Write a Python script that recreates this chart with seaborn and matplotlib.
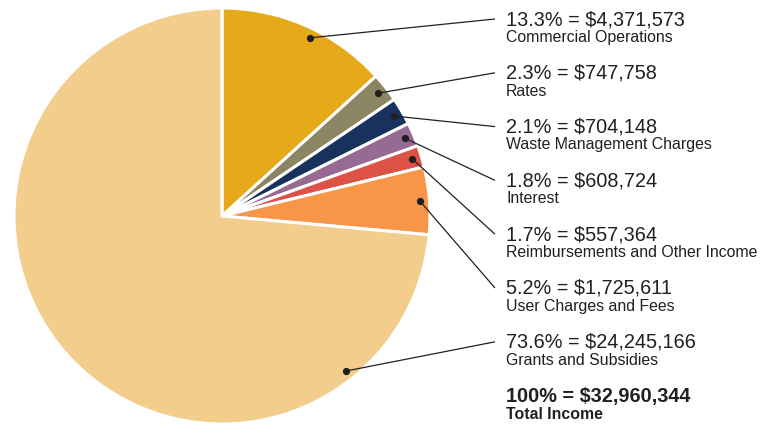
import numpy as np
import matplotlib
matplotlib.use("Agg")
import matplotlib.pyplot as plt
import seaborn as sns

# ---- data ----
categories = ["Commercial Operations", "Rates", "Waste Management Charges", "Interest",
              "Reimbursements and Other Income", "User Charges and Fees", "Grants and Subsidies"]
values = [4371573, 747758, 704148, 608724, 557364, 1725611, 24245166]
percent_labels = ["13.3%", "2.3%", "2.1%", "1.8%", "1.7%", "5.2%", "73.6%"]
total_label = "100%"
total_name = "Total Income"
colors = ["#E5A919", "#8B8563", "#18325E", "#976A94", "#DC5247", "#F79548", "#F2CD8B"]

sns.set_theme(style="white")
plt.rcParams["font.family"] = ["Liberation Sans", "DejaVu Sans"]

W, H = 762, 427
fig = plt.figure(figsize=(W / 100, H / 100), dpi=100)
ax = fig.add_axes([0, 0, 1, 1])

cx, cy, R = 222, H - 217, 208
wedges, _ = ax.pie(values, colors=colors, startangle=90, counterclock=False,
                   center=(cx, cy), radius=R,
                   wedgeprops=dict(edgecolor="white", linewidth=2.2))
ax.set_xlim(0, W)
ax.set_ylim(0, H)
ax.set_aspect("auto")
ax.axis("off")

# anchor position inside each wedge: fraction along the wedge's angular span (from theta1)
anchor_frac = [0.45, 0.5, 0.5, 0.5, 0.5, 0.5, 0.826]
anchor_r = 0.955

text_color = "#231F20"
label_x = 506
line_end_x = 495
first_baseline = 25
step = 53.8

for i, (w, name) in enumerate(zip(wedges, categories)):
    t1, t2 = w.theta1, w.theta2
    ang = np.deg2rad(t1 + anchor_frac[i] * (t2 - t1))
    px = cx + anchor_r * R * np.cos(ang)
    py = cy + anchor_r * R * np.sin(ang)
    base = first_baseline + i * step
    ty = H - base
    ax.plot([px, line_end_x], [py, ty + 5], color=text_color, lw=0.9, solid_capstyle="butt")
    ax.plot([px], [py], "o", color=text_color, ms=4.2)
    ax.text(label_x, ty, f"{percent_labels[i]} = ${values[i]:,}", fontsize=14.3,
            color=text_color, va="baseline", ha="left")
    ax.text(label_x, ty - 16.8, name, fontsize=11.4, color=text_color,
            va="baseline", ha="left")

base = first_baseline + len(categories) * step
ty = H - base
ax.text(label_x, ty, f"{total_label} = ${sum(values):,}", fontsize=14.3, fontweight="bold",
        color=text_color, va="baseline", ha="left")
ax.text(label_x, ty - 17.5, total_name, fontsize=11.4, fontweight="bold",
        color=text_color, va="baseline", ha="left")

fig.savefig("out.png", dpi=100)
